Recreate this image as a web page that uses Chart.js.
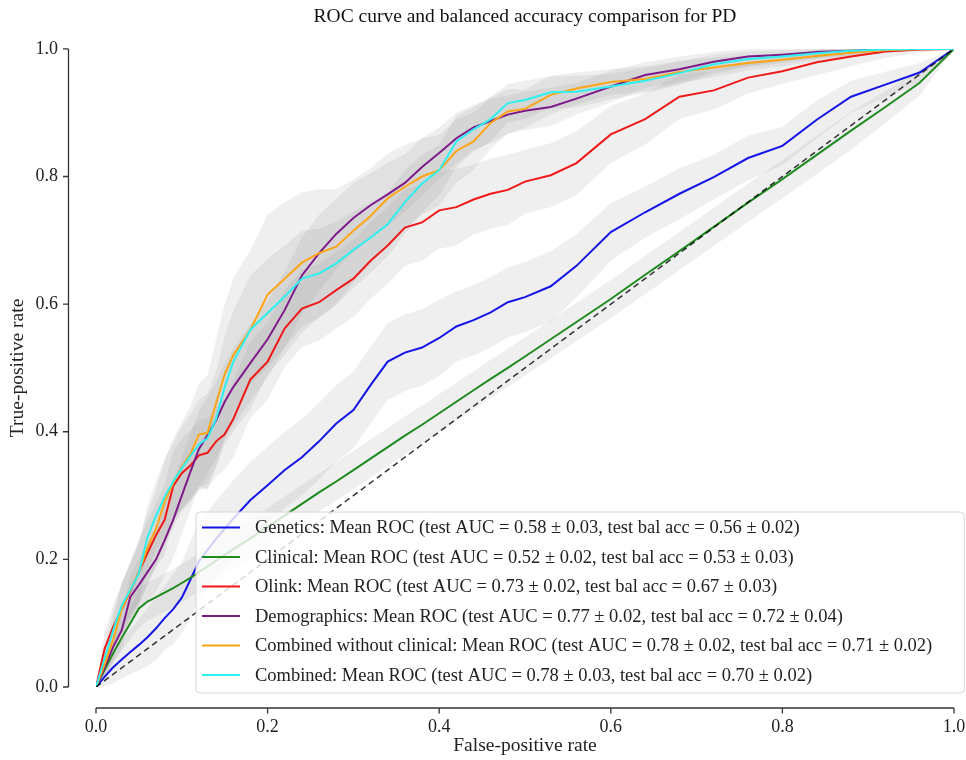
<!DOCTYPE html>
<html>
<head>
<meta charset="utf-8">
<script src="https://cdn.jsdelivr.net/npm/chart.js@4.4.1/dist/chart.umd.min.js"></script>
<style>
  html, body { margin: 0; padding: 0; background: #fff; }
</style>
</head>
<body>
<canvas id="rocChart" width="966" height="760"></canvas>
<script>
// shared false-positive-rate grid
const fpr = [0, .01, .02, .03, .04, .05, .06, .07, .08, .09, .10, .11, .12, .13, .14, .15, .16,
  .18, .20, .22, .24, .26, .28, .30, .32, .34, .36, .38, .40, .42, .44, .46, .48, .50,
  .53, .56, .60, .64, .68, .72, .76, .80, .84, .88, .92, .96, 1.0];

// mean true-positive rate per model
const genetics = [0, .016, .031, .043, .055, .066, .078, .092, .108, .122, .140, .168, .197, .215, .232, .248, .264,
  .293, .316, .340, .360, .385, .413, .434, .473, .510, .524, .532, .547, .565, .575, .587, .603, .611,
  .628, .660, .713, .744, .773, .799, .829, .848, .889, .925, .944, .963, 1];
const clinical = [0, .027, .053, .077, .100, .123, .134, .141, .148, .155, .163, .171, .180, .189, .198, .207, .216,
  .233, .251, .269, .287, .305, .322, .340, .358, .376, .394, .411, .429, .447, .465, .483, .500, .518,
  .545, .572, .608, .646, .683, .721, .759, .796, .834, .872, .909, .947, 1];
const olink = [0, .060, .094, .122, .150, .180, .210, .238, .262, .315, .335, .347, .363, .367, .385, .396, .420,
  .482, .510, .562, .593, .603, .622, .640, .668, .692, .720, .728, .747, .752, .764, .773, .779, .792,
  .802, .821, .866, .890, .925, .935, .955, .965, .979, .988, .996, .999, 1];
const demographics = [0, .030, .063, .089, .141, .160, .180, .200, .230, .262, .300, .337, .373, .395, .418, .447, .470,
  .508, .545, .591, .645, .680, .710, .735, .755, .772, .790, .815, .837, .860, .877, .887, .897, .903,
  .909, .922, .941, .959, .968, .980, .988, .991, .995, .997, .999, 1, 1];
const combinedNoClin = [0, .035, .074, .122, .152, .180, .218, .248, .290, .320, .345, .365, .396, .398, .445, .490, .520,
  .560, .615, .640, .665, .680, .690, .715, .738, .766, .784, .800, .810, .840, .855, .884, .902, .906,
  .928, .938, .948, .953, .964, .971, .978, .983, .989, .994, .998, 1, 1];
const combined = [0, .045, .089, .128, .152, .178, .235, .268, .298, .322, .343, .362, .380, .390, .420, .470, .510,
  .560, .586, .612, .640, .648, .664, .685, .704, .725, .760, .789, .810, .855, .874, .890, .915, .920,
  .932, .933, .941, .950, .962, .976, .984, .988, .993, .997, .999, 1, 1];

// standard deviation of the true-positive rate per model
const geneticsStd = [0, .015, .025, .03, .035, .04, .045, .05, .05, .055, .055, .06, .06, .06, .06, .06, .06,
  .06, .06, .06, .06, .06, .06, .06, .06, .06, .06, .06, .06, .055, .055, .055, .055, .055,
  .055, .05, .045, .04, .04, .035, .035, .03, .03, .025, .02, .015, 0];
const clinicalStd = [0, .01, .015, .02, .025, .03, .03, .03, .03, .03, .03, .03, .03, .03, .03, .03, .03,
  .03, .03, .03, .03, .03, .03, .03, .03, .03, .03, .03, .03, .03, .03, .03, .03, .03,
  .03, .03, .03, .03, .03, .03, .03, .03, .03, .03, .025, .02, 0];
const olinkStd = [0, .025, .035, .04, .045, .05, .05, .05, .055, .055, .055, .055, .055, .055, .055, .055, .06,
  .06, .06, .06, .06, .06, .06, .06, .06, .06, .06, .06, .06, .06, .055, .055, .055, .05,
  .05, .05, .045, .04, .035, .03, .025, .02, .02, .015, .01, .005, 0];
const demographicsStd = [0, .015, .025, .03, .035, .04, .045, .05, .055, .06, .06, .06, .06, .06, .06, .06, .06,
  .06, .06, .06, .06, .06, .055, .055, .05, .05, .045, .045, .04, .04, .035, .035, .03, .03,
  .03, .025, .025, .02, .02, .015, .015, .01, .01, .008, .005, .003, 0];
const combinedNoClinStd = [0, .02, .03, .04, .045, .05, .055, .06, .065, .07, .07, .075, .08, .09, .1, .11, .12,
  .125, .125, .12, .11, .1, .09, .08, .075, .07, .065, .06, .055, .05, .045, .04, .035, .03,
  .03, .025, .02, .02, .018, .015, .012, .01, .008, .006, .004, .002, 0];
const combinedStd = [0, .02, .03, .035, .04, .045, .05, .055, .06, .06, .065, .065, .07, .07, .075, .08, .08,
  .085, .085, .08, .075, .07, .065, .06, .055, .05, .05, .045, .04, .04, .035, .035, .03, .03,
  .025, .025, .02, .02, .018, .015, .012, .01, .008, .006, .004, .002, 0];

// chance line
const chanceX = [0, 1];
const chanceY = [0, 1];

// axis ticks
const tickValues = [0, 0.2, 0.4, 0.6, 0.8, 1.0];

// legend numbers
const models = ['Genetics', 'Clinical', 'Olink', 'Demographics', 'Combined without clinical', 'Combined'];
const aucMean = [0.58, 0.52, 0.73, 0.77, 0.78, 0.78];
const aucStd = [0.03, 0.02, 0.02, 0.02, 0.02, 0.03];
const balAcc = [0.56, 0.53, 0.67, 0.72, 0.71, 0.70];
const balAccStd = [0.02, 0.03, 0.03, 0.04, 0.02, 0.02];

const means = [genetics, clinical, olink, demographics, combinedNoClin, combined];
const stds = [geneticsStd, clinicalStd, olinkStd, demographicsStd, combinedNoClinStd, combinedStd];
const colors = ['#1414e8', '#1f8a1f', '#f01818', '#7f1a8a', '#ffa514', '#2ef0f0'];

const serif = '"Liberation Serif", "Times New Roman", serif';
Chart.defaults.font.family = serif;
Chart.defaults.color = '#222';

const labels = models.map((m, i) =>
  `${m}: Mean ROC (test AUC = ${aucMean[i].toFixed(2)} \u00b1 ${aucStd[i].toFixed(2)}, ` +
  `test bal acc = ${balAcc[i].toFixed(2)} \u00b1 ${balAccStd[i].toFixed(2)})`);

const pts = ys => fpr.map((x, i) => ({ x: x, y: ys[i] }));

// datasets: first one is drawn on top
const datasets = [];
datasets.push({
  label: 'Chance',
  data: chanceX.map((x, i) => ({ x: x, y: chanceY[i] })),
  borderColor: 'rgba(0,0,0,0.8)',
  borderWidth: 1.5,
  borderDash: [6, 4],
  pointRadius: 0,
  fill: false
});
for (let i = models.length - 1; i >= 0; i--) {
  datasets.push({
    label: labels[i],
    data: pts(means[i]),
    borderColor: colors[i],
    borderWidth: 2,
    pointRadius: 0,
    tension: 0,
    fill: false
  });
}
for (let i = models.length - 1; i >= 0; i--) {
  const hi = means[i].map((v, k) => Math.min(v + stds[i][k], 1));
  const lo = means[i].map((v, k) => Math.max(v - stds[i][k], 0));
  datasets.push({
    label: models[i] + ' +1 std',
    data: pts(hi),
    borderWidth: 0,
    borderColor: 'rgba(0,0,0,0)',
    pointRadius: 0,
    backgroundColor: 'rgba(128,128,128,0.13)',
    fill: '+1'
  });
  datasets.push({
    label: models[i] + ' -1 std',
    data: pts(lo),
    borderWidth: 0,
    borderColor: 'rgba(0,0,0,0)',
    pointRadius: 0,
    fill: false
  });
}

// offset spines like the seaborn despine look
const spines = {
  id: 'spines',
  afterDraw(chart) {
    const { ctx, chartArea, scales: { x, y } } = chart;
    ctx.save();
    ctx.strokeStyle = '#333';
    ctx.lineWidth = 1.3;
    const sx = chartArea.left - 27.5;
    const sy = chartArea.bottom + 21;
    ctx.beginPath();
    ctx.moveTo(sx, y.getPixelForValue(0));
    ctx.lineTo(sx, y.getPixelForValue(1));
    tickValues.forEach(v => {
      const p = y.getPixelForValue(v);
      ctx.moveTo(sx - 5.5, p);
      ctx.lineTo(sx, p);
    });
    ctx.moveTo(x.getPixelForValue(0), sy);
    ctx.lineTo(x.getPixelForValue(1), sy);
    tickValues.forEach(v => {
      const p = x.getPixelForValue(v);
      ctx.moveTo(p, sy);
      ctx.lineTo(p, sy + 5.5);
    });
    ctx.stroke();
    ctx.restore();
  }
};

// framed legend inside the axes, lower right
const boxLegend = {
  id: 'boxLegend',
  afterDraw(chart) {
    const { ctx, chartArea } = chart;
    const rowH = 29.5;
    ctx.save();
    ctx.font = '18.5px ' + serif;
    const textW = Math.max(...labels.map(t => ctx.measureText(t).width));
    const left = chartArea.left + 100;
    const top = chartArea.bottom - 175;
    const w = textW + 59 + 32;
    const h = rowH * labels.length + 4;
    ctx.beginPath();
    ctx.roundRect(left, top, w, h, 4);
    ctx.fillStyle = 'rgba(255,255,255,0.8)';
    ctx.fill();
    ctx.strokeStyle = '#d6d6d6';
    ctx.lineWidth = 1;
    ctx.stroke();
    ctx.textBaseline = 'middle';
    ctx.textAlign = 'left';
    labels.forEach((t, i) => {
      const yy = top + 15.5 + i * rowH;
      ctx.strokeStyle = colors[i];
      ctx.lineWidth = 2.2;
      ctx.beginPath();
      ctx.moveTo(left + 6, yy);
      ctx.lineTo(left + 44, yy);
      ctx.stroke();
      ctx.fillStyle = '#222';
      ctx.fillText(t, left + 59, yy + 1);
    });
    ctx.restore();
  }
};

// keep the plot box fixed: no automatic label padding around the axes
const fixBox = size => s => {
  s.paddingLeft = 0;
  s.paddingRight = 0;
  s.paddingTop = 0;
  s.paddingBottom = 0;
  if (s.isHorizontal()) s.height = size; else s.width = size;
};

const rocChart = new Chart(document.getElementById('rocChart').getContext('2d'), {
  type: 'line',
  data: { datasets: datasets },
  options: {
    responsive: false,
    animation: false,
    layout: { padding: { top: 0, right: 12, bottom: 0, left: 0 } },
    plugins: {
      legend: { display: false },
      tooltip: { enabled: false },
      title: {
        display: true,
        fullSize: false,
        text: 'ROC curve and balanced accuracy comparison for PD',
        font: { size: 19.5, weight: 'normal' },
        color: '#111',
        padding: { top: 5.5, bottom: 20 }
      }
    },
    scales: {
      x: {
        type: 'linear',
        min: 0,
        max: 1,
        grid: { display: false, drawTicks: false },
        border: { display: false },
        afterBuildTicks: s => { s.ticks = tickValues.map(v => ({ value: v })); },
        ticks: { padding: 29, font: { size: 18 }, callback: v => v.toFixed(1) },
        title: { display: true, text: 'False-positive rate', font: { size: 19.5 }, padding: { top: 0, bottom: 2.5 } },
        afterFit: fixBox(73)
      },
      y: {
        min: 0,
        max: 1,
        grid: { display: false, drawTicks: false },
        border: { display: false },
        afterBuildTicks: s => { s.ticks = tickValues.map(v => ({ value: v })); },
        ticks: { padding: 38, font: { size: 18 }, callback: v => v.toFixed(1) },
        title: { display: true, text: 'True-positive rate', font: { size: 19.5 }, padding: { top: 6, bottom: 0 } },
        afterFit: fixBox(96)
      }
    }
  },
  plugins: [spines, boxLegend]
});
</script>
</body>
</html>
